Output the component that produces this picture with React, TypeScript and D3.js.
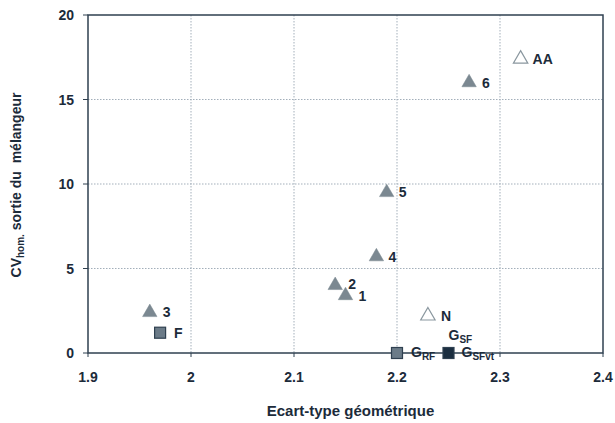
import React from "react";
import * as d3 from "d3";

// points
const names = ["3", "F", "2", "1", "4", "5", "6", "AA", "N", "GRF", "GSFvt"];
const xVals = [1.96, 1.97, 2.14, 2.15, 2.18, 2.19, 2.27, 2.32, 2.23, 2.2, 2.25];
const yVals = [2.4, 1.2, 4.0, 3.4, 5.7, 9.5, 16.0, 17.4, 2.2, 0, 0];
const kinds = ["tri", "sq", "tri", "tri", "tri", "tri", "tri", "open", "open", "sq", "sqDark"];

const xTicks = [1.9, 2, 2.1, 2.2, 2.3, 2.4];
const yTicks = [0, 5, 10, 15, 20];

const W = 615;
const H = 423;
const margin = { top: 15, right: 12, bottom: 70, left: 88 };

const TEXT = "#1c2b3a";
const AXIS = "#2f4050";
const GRID = "#a3afba";
const FONT = "'Liberation Sans', Arial, sans-serif";

// label placement relative to the mark: [dx, dy, main, sub]
const labelPos: Record<string, [number, number, string, string]> = {
  "3": [13, 5, "3", ""],
  F: [14, 5, "F", ""],
  "2": [13, 4, "2", ""],
  "1": [13, 5, "1", ""],
  "4": [12, 5, "4", ""],
  "5": [12, 5, "5", ""],
  "6": [13, 5, "6", ""],
  AA: [12, 5, "AA", ""],
  N: [13, 5, "N", ""],
  GRF: [14, 4, "G", "RF"],
  GSFvt: [13, 4, "G", "SFvt"],
};

const App = () => {
  const x = d3
    .scaleLinear()
    .domain([1.9, 2.4])
    .range([margin.left, W - margin.right]);
  const y = d3
    .scaleLinear()
    .domain([0, 20])
    .range([H - margin.bottom, margin.top]);

  const x0 = x(1.9);
  const x1 = x(2.4);
  const y0 = y(0);
  const y1 = y(20);

  const tri = d3.symbol().type(d3.symbolTriangle).size(90);

  return (
    <div style={{ position: "absolute", left: 0, top: 0 }}>
      <svg width={W} height={H} style={{ display: "block", background: "#fff" }} fontFamily={FONT}>
        {/* grid */}
        {xTicks.slice(1, -1).map((t) => (
          <line key={"gx" + t} x1={x(t)} x2={x(t)} y1={y1} y2={y0} stroke={GRID} strokeWidth={1} strokeDasharray="1.5,1.5" />
        ))}
        {yTicks.slice(1, -1).map((t) => (
          <line key={"gy" + t} x1={x0} x2={x1} y1={y(t)} y2={y(t)} stroke={GRID} strokeWidth={1} strokeDasharray="1.5,1.5" />
        ))}

        {/* frame */}
        <rect x={x0} y={y1} width={x1 - x0} height={y0 - y1} fill="none" stroke={AXIS} strokeWidth={1.5} />

        {/* ticks */}
        {xTicks.map((t) => (
          <g key={"xt" + t}>
            <line x1={x(t)} x2={x(t)} y1={y0} y2={y0 + 4} stroke={AXIS} strokeWidth={1} />
            <text x={x(t)} y={y0 + 29} textAnchor="middle" fontSize={14} fontWeight="bold" fill={TEXT}>
              {t}
            </text>
          </g>
        ))}
        {yTicks.map((t) => (
          <g key={"yt" + t}>
            <line x1={x0 - 5} x2={x0} y1={y(t)} y2={y(t)} stroke={AXIS} strokeWidth={1} />
            <text x={x0 - 14} y={y(t) + 5} textAnchor="end" fontSize={14} fontWeight="bold" fill={TEXT}>
              {t}
            </text>
          </g>
        ))}

        {/* axis titles */}
        <text x={(x0 + x1) / 2 + 5} y={416} textAnchor="middle" fontSize={15} fontWeight="bold" fill={TEXT}>
          Ecart-type géométrique
        </text>
        <text transform="translate(21, 185) rotate(-90)" textAnchor="middle" fontSize={14} fontWeight="bold" fill={TEXT}>
          CV<tspan fontSize={10} dy={3}>hom.</tspan>
          <tspan dy={-3}>{" sortie du\u00a0 mélangeur"}</tspan>
        </text>

        {/* marks */}
        {names.map((n, i) => {
          const cx = x(xVals[i]);
          const cy = y(yVals[i]);
          const k = kinds[i];
          let mark;
          if (k === "tri" || k === "open") {
            mark = (
              <path
                d={tri() as string}
                transform={`translate(${cx},${cy})`}
                fill={k === "tri" ? "#7b8891" : "#ffffff"}
                stroke={k === "tri" ? "#7b8891" : "#8a979f"}
                strokeWidth={k === "tri" ? 0.5 : 1.2}
              />
            );
          } else {
            mark = (
              <rect
                x={cx - 5.5}
                y={cy - 5.5}
                width={11}
                height={11}
                fill={k === "sqDark" ? "#1b2e40" : "#6b7b88"}
                stroke="#2f4050"
                strokeWidth={1.2}
              />
            );
          }
          const [dx, dy, main, sub] = labelPos[n];
          return (
            <g key={n}>
              {mark}
              <text x={cx + dx} y={cy + dy} fontSize={14} fontWeight="bold" fill={TEXT}>
                {main}
                {sub && (
                  <tspan fontSize={10} dy={3}>
                    {sub}
                  </tspan>
                )}
              </text>
            </g>
          );
        })}

        {/* G_SF sits above the G_SFvt square */}
        <text x={x(2.25)} y={y(0) - 13} fontSize={14} fontWeight="bold" fill={TEXT}>
          G<tspan fontSize={10} dy={3}>SF</tspan>
        </text>
      </svg>
    </div>
  );
};

export default App;
